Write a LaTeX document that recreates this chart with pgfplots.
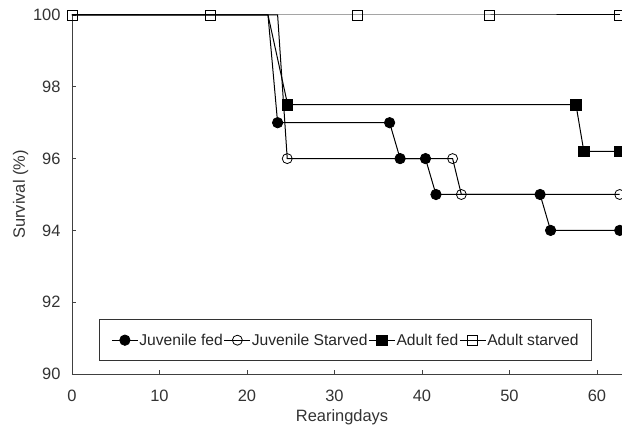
\documentclass[border=0pt]{standalone}
\usepackage{fontspec}
\setmainfont{Liberation Sans}
\usepackage{pgfplots}
\pgfplotsset{compat=1.18}

\begin{document}
\begin{tikzpicture}
\begin{axis}[
  at={(0,0)}, anchor=south west,
  scale only axis, width=550bp, height=359bp,
  xmin=0, xmax=62.86, ymin=90, ymax=100,
  axis x line*=bottom, axis y line*=left,
  axis line style={black!75, line width=0.9bp},
  xtick={0,10,...,60}, ytick={90,92,...,100},
  tick align=inside, major tick length=4bp,
  tick style={black!75, line width=0.8bp},
  /pgf/number format/assume math mode=true,
  tick label style={font=\fontsize{16.5}{19}\selectfont, text=black!80},
  xticklabel style={yshift=-13bp},
  yticklabel style={xshift=-8bp},
  xlabel={Rearingdays}, ylabel={Survival (\%)},
  label style={font=\fontsize{16.5}{19}\selectfont, text=black!80},
  xlabel style={at={(axis description cs:0.491,0)}, anchor=base, yshift=-47bp},
  ylabel style={at={(axis description cs:0,0.5)}, anchor=base, yshift=47bp},
  clip=false,
  every axis plot/.append style={black, line width=1bp, mark options={line width=0.8bp}},
  legend columns=4,
  legend image code/.code={\draw[mark repeat=2,mark phase=2] plot coordinates {(0bp,0bp)(13bp,0bp)(26bp,0bp)};},
  legend style={at={(27/550,13/359)}, anchor=south west, draw=black!80, line width=0.8bp,
    font=\fontsize{15.7}{18}\selectfont, text=black!85, inner xsep=12bp, inner ysep=13bp,
    nodes={inner sep=1bp}, /tikz/every even column/.append style={column sep=0bp}},
]
% Juvenile fed
\addplot[forget plot] coordinates {(0,100) (22.4,100) (23.5,97) (36.3,97) (37.5,96) (40.4,96) (41.6,95) (53.5,95) (54.7,94) (62.6,94)};
\addplot[forget plot, only marks, mark=*, mark size=5.2bp] coordinates {(23.5,97) (36.3,97) (37.5,96) (40.4,96) (41.6,95) (53.5,95) (54.7,94) (62.6,94)};
% Juvenile starved
\addplot[forget plot] coordinates {(0,100) (23.5,100) (24.6,96) (43.5,96) (44.5,95) (62.6,95)};
\addplot[forget plot, only marks, mark=o, mark size=5bp] coordinates {(24.6,96) (43.5,96) (44.5,95) (62.6,95)};
% Adult fed
\addplot[forget plot] coordinates {(0,100) (22.4,100) (24.65,97.5) (57.6,97.5) (58.5,96.2) (62.6,96.2)};
\addplot[forget plot, only marks, mark=square*, mark size=5.2bp] coordinates {(24.65,97.5) (57.6,97.5) (58.5,96.2) (62.6,96.2)};
% Adult starved
\addplot[forget plot, mark=square, mark size=5bp] coordinates {(0,100) (15.8,100) (32.6,100) (47.7,100) (62.6,100)};

\addlegendimage{black, line width=1bp, mark=*, mark size=5.2bp}
\addlegendentry{Juvenile fed}
\addlegendimage{black, line width=1bp, mark=o, mark size=5bp, mark options={line width=0.8bp}}
\addlegendentry{Juvenile Starved\hspace{10bp}}
\addlegendimage{black, line width=1bp, mark=square*, mark size=5.2bp}
\addlegendentry{Adult fed\hspace{12bp}}
\addlegendimage{black, line width=1bp, mark=square, mark size=5bp, mark options={line width=0.8bp}}
\addlegendentry{Adult starved}
\end{axis}
\pgfresetboundingbox
\path (-72bp,-53bp) rectangle (550bp,374bp);
\end{tikzpicture}
\end{document}
